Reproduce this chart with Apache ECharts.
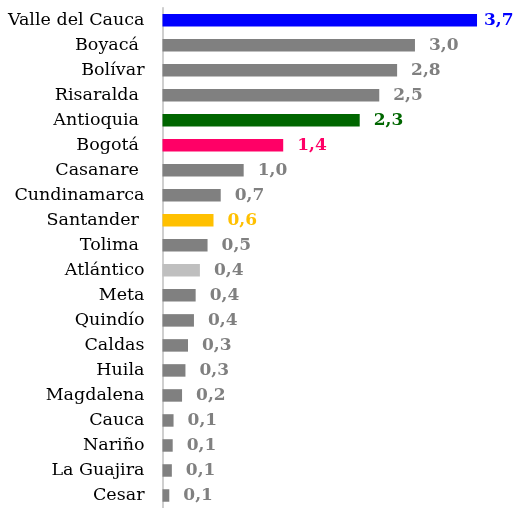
<!DOCTYPE html>
<html>
<head>
<meta charset="utf-8">
<script src="https://cdn.jsdelivr.net/npm/echarts@6/dist/echarts.min.js"></script>
<style>
html,body{margin:0;padding:0;background:#fff;}
#chart{width:514px;height:508px;}
</style>
</head>
<body>
<div id="chart"></div>
<script>
const categories = ["Valle del Cauca","Boyacá ","Bolívar","Risaralda ","Antioquia ","Bogotá ","Casanare ","Cundinamarca","Santander ","Tolima ","Atlántico","Meta","Quindío","Caldas","Huila","Magdalena","Cauca","Nariño","La Guajira","Cesar"];
// bar lengths
const values = [3.70, 2.97, 2.76, 2.55, 2.32, 1.42, 0.955, 0.685, 0.60, 0.53, 0.44, 0.39, 0.37, 0.30, 0.27, 0.23, 0.13, 0.12, 0.11, 0.08];
// value labels as printed on the chart
const valueLabels = ["3,7","3,0","2,8","2,5","2,3","1,4","1,0","0,7","0,6","0,5","0,4","0,4","0,4","0,3","0,3","0,2","0,1","0,1","0,1","0,1"];

// styling (kept separate from data)
const GRAY = '#808080';
const barColorByName = {"Valle del Cauca":'#0000FF',"Antioquia ":'#006600',"Bogotá ":'#FF0066',"Santander ":'#FFC000',"Atlántico":'#BFBFBF'};
const labelColorByName = {"Valle del Cauca":'#0000FF',"Antioquia ":'#006600',"Bogotá ":'#FF0066',"Santander ":'#FFC000'};

const chart = echarts.init(document.getElementById('chart'), null, {renderer:'canvas'});
const seriesData = values.map((v,i)=>{
  const name = categories[i];
  return {
    value: v,
    itemStyle: {color: barColorByName[name] || GRAY},
    label: {
      color: labelColorByName[name] || GRAY,
      distance: i === 0 ? 7 : 14
    }
  };
});

chart.setOption({
  animation:false,
  backgroundColor:'#fff',
  grid:{left:162.5, right:0, top:7.7, bottom:-2.6, containLabel:false},
  xAxis:{
    type:'value', min:0, max:4.135, show:false,
    splitLine:{show:false}
  },
  yAxis:{
    type:'category', data:categories, inverse:true,
    axisLine:{show:true, lineStyle:{color:'#BFBFBF', width:1.5}},
    axisTick:{show:false},
    axisLabel:{
      fontFamily:'DejaVu Serif', fontSize:17.5, color:'#000', margin:18
    }
  },
  series:[{
    type:'bar', data:seriesData, barWidth:12.5,
    label:{
      show:true, position:'right',
      fontFamily:'DejaVu Serif', fontWeight:'bold', fontSize:17,
      formatter:(p)=>valueLabels[p.dataIndex]
    }
  }]
});
</script>
</body>
</html>
